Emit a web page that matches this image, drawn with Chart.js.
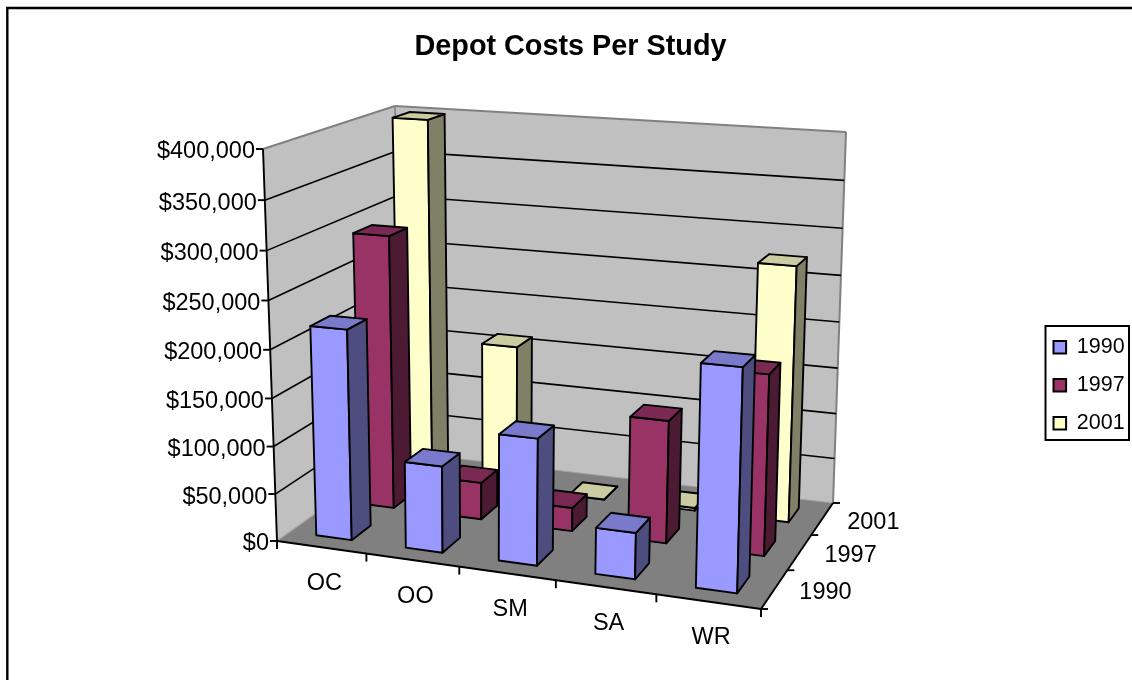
<!DOCTYPE html>
<html>
<head>
<meta charset="utf-8">
<style>html,body{margin:0;padding:0;background:#fff}canvas{display:block}</style>
<script src="https://cdn.jsdelivr.net/npm/chart.js@4/dist/chart.umd.min.js"></script>
</head>
<body>
<canvas id="chart" width="1132" height="680"></canvas>
<script>
const categories = ['OC', 'OO', 'SM', 'SA', 'WR'];
const years = ['1990', '1997', '2001'];
const costs1990 = [220000, 90000, 130000, 47000, 221000];
const costs1997 = [294000, 40000, 25000, 129000, 187000];
const costs2001 = [399000, 160000, 0, 3000, 273000];

const FONT = '"Liberation Sans", Arial, sans-serif';
const faceColors = [
    { front: '#9999FF', side: '#4D4D80', top: '#7A7ACC' },
    { front: '#993366', side: '#4D1A33', top: '#7A2952' },
    { front: '#FFFFCC', side: '#808066', top: '#CCCCA3' }
];

//esquinas de la caja 3D: frente-izq, frente-der, fondo-der, fondo-izq
const floorQuad = [[277, 541], [761, 609], [833, 503], [402, 452]];
const roofQuad = [[263, 149], [772, 182], [846, 132], [395, 106]];

function homography(q) {
    const [[x0, y0], [x1, y1], [x2, y2], [x3, y3]] = q;
    const dx1 = x1 - x2, dx2 = x3 - x2, sx = x0 - x1 + x2 - x3;
    const dy1 = y1 - y2, dy2 = y3 - y2, sy = y0 - y1 + y2 - y3;
    const den = dx1 * dy2 - dx2 * dy1;
    const g = (sx * dy2 - dx2 * sy) / den;
    const h = (dx1 * sy - sx * dy1) / den;
    const a = x1 - x0 + g * x1, b = x3 - x0 + h * x3;
    const d = y1 - y0 + g * y1, e = y3 - y0 + h * y3;
    return (u, w) => {
        const n = g * u + h * w + 1;
        return [(a * u + b * w + x0) / n, (d * u + e * w + y0) / n];
    };
}
const floorAt = homography(floorQuad);
const roofAt = homography(roofQuad);

//u: ancho (categorias), w: profundidad (series), t: altura 0..1
function project(u, w, t) {
    const r = 1.05;
    const k = t / (t + (1 - t) * r);
    const a = floorAt(u, w), b = roofAt(u, w);
    return [a[0] + (b[0] - a[0]) * k, a[1] + (b[1] - a[1]) * k];
}

function poly(ctx, pts, fill, stroke, lw) {
    ctx.beginPath();
    pts.forEach((p, i) => i ? ctx.lineTo(p[0], p[1]) : ctx.moveTo(p[0], p[1]));
    ctx.closePath();
    if (fill) { ctx.fillStyle = fill; ctx.fill(); }
    if (stroke) { ctx.strokeStyle = stroke; ctx.lineWidth = lw; ctx.stroke(); }
}
function seg(ctx, a, b, color, lw) {
    ctx.beginPath();
    ctx.moveTo(a[0], a[1]);
    ctx.lineTo(b[0], b[1]);
    ctx.strokeStyle = color;
    ctx.lineWidth = lw;
    ctx.stroke();
}
function label(ctx, text, x, y, align) {
    ctx.font = '23.5px ' + FONT;
    ctx.fillStyle = '#000';
    ctx.textAlign = align;
    ctx.textBaseline = 'middle';
    ctx.fillText(text, x, y);
}

const scene3d = {
    id: 'scene3d',
    afterLayout(chart) {
        //la leyenda va fija a la derecha, como en el original
        chart.legend.left = 1037;
        chart.legend.top = 320;
    },
    beforeDraw(chart) {
        const { ctx } = chart;
        ctx.save();
        //marco exterior, solo arriba e izquierda
        ctx.beginPath();
        ctx.moveTo(7.3, 680);
        ctx.lineTo(7.3, 8);
        ctx.lineTo(1132, 8);
        ctx.strokeStyle = '#000';
        ctx.lineWidth = 2.4;
        ctx.stroke();
        ctx.restore();
    },
    beforeDatasetsDraw(chart) {
        const { ctx, scales: { x, y } } = chart;
        const frac = v => (y.bottom - y.getPixelForValue(v)) / (y.bottom - y.top);
        ctx.save();
        ctx.lineJoin = 'round';

        //paredes y piso
        poly(ctx, [project(0, 0, 0), project(0, 1, 0), project(0, 1, 1), project(0, 0, 1)], '#C0C0C0');
        poly(ctx, [project(0, 1, 0), project(1, 1, 0), project(1, 1, 1), project(0, 1, 1)], '#C0C0C0');
        poly(ctx, [project(0, 0, 0), project(1, 0, 0), project(1, 1, 0), project(0, 1, 0)], '#808080');
        seg(ctx, project(0, 0, 1), project(0, 1, 1), '#808080', 2);
        seg(ctx, project(0, 1, 1), project(1, 1, 1), '#808080', 2);
        seg(ctx, project(1, 1, 1), project(1, 1, 0), '#808080', 2);
        seg(ctx, project(0, 1, 1), project(0, 1, 0), '#808080', 1.6);
        seg(ctx, project(0, 0, 0), project(0, 1, 0), '#A0A0A0', 1.2);
        seg(ctx, project(0, 1, 0), project(1, 1, 0), '#A0A0A0', 1.2);

        //lineas de grilla y etiquetas del eje de valores
        y.ticks.forEach((tick, i) => {
            const t = frac(tick.value);
            const a = project(0, 0, t);
            if (i > 0 && i < y.ticks.length - 1) {
                seg(ctx, a, project(0, 1, t), '#000', 1.6);
                seg(ctx, project(0, 1, t), project(1, 1, t), '#000', 1.6);
            }
            seg(ctx, [a[0] - 7, a[1]], a, '#000', 1.9);
            label(ctx, tick.label, a[0] - 8, a[1] + 3, 'right');
        });

        //ejes
        seg(ctx, project(0, 0, 0), project(0, 0, 1), '#000', 1.9);
        seg(ctx, project(0, 0, 0), project(1, 0, 0), '#000', 1.9);
        seg(ctx, project(1, 0, 0), project(1, 1, 0), '#000', 1.9);

        const catW = 1 / categories.length;
        for (let i = 0; i <= categories.length; i++) {
            const p = project(i * catW, 0, 0);
            seg(ctx, p, [p[0], p[1] + 8], '#000', 1.9);
        }
        categories.forEach((c, i) => {
            const p = project((x.getPixelForValue(i) - x.left) / x.width, 0, 0);
            label(ctx, c, p[0] + 3, p[1] + 36, 'center');
        });
        for (let s = 0; s <= years.length; s++) {
            const p = project(1, s / years.length, 0);
            seg(ctx, p, [p[0] + 7, p[1]], '#000', 1.9);
        }
        years.forEach((yr, s) => {
            const p = project(1, (s + 0.5) / years.length, 0);
            label(ctx, yr, p[0] + 51, p[1] + 3.5, 'center');
        });

        //barras, de atras hacia adelante
        const slot = 1 / years.length;
        for (let s = years.length - 1; s >= 0; s--) {
            const meta = chart.getDatasetMeta(s);
            const c = faceColors[s];
            const w0 = (s + 0.5) * slot - 0.22 * slot;
            const w1 = (s + 0.5) * slot + 0.22 * slot;
            meta.data.forEach(bar => {
                const u0 = (bar.x - bar.width / 2 - x.left) / x.width;
                const u1 = (bar.x + bar.width / 2 - x.left) / x.width;
                const t = (y.bottom - bar.y) / (y.bottom - y.top);
                poly(ctx, [project(u0, w0, 0), project(u1, w0, 0), project(u1, w0, t), project(u0, w0, t)], c.front, '#000', 1.9);
                poly(ctx, [project(u1, w0, 0), project(u1, w1, 0), project(u1, w1, t), project(u1, w0, t)], c.side, '#000', 1.9);
                poly(ctx, [project(u0, w0, t), project(u1, w0, t), project(u1, w1, t), project(u0, w1, t)], c.top, '#000', 1.9);
            });
        }
        ctx.restore();
        return false;
    },
    afterDraw(chart) {
        const { ctx } = chart;
        ctx.save();
        ctx.strokeStyle = '#000';
        ctx.lineWidth = 2;
        ctx.strokeRect(1045.5, 326, 83.5, 114);
        ctx.restore();
    }
};

new Chart(document.getElementById('chart'), {
    type: 'bar',
    data: {
        labels: categories,
        datasets: [costs1990, costs1997, costs2001].map((values, s) => ({
            label: years[s],
            data: values,
            grouped: false,
            barPercentage: 0.4,
            categoryPercentage: 1,
            backgroundColor: faceColors[s].front,
            borderColor: '#000',
            borderWidth: 2
        }))
    },
    options: {
        responsive: false,
        animation: false,
        layout: { padding: { left: 10, right: 1, top: 0, bottom: 0 } },
        scales: {
            x: { display: false },
            y: {
                display: false,
                min: 0,
                max: 400000,
                ticks: { stepSize: 50000, callback: v => '$' + v.toLocaleString('en-US') }
            }
        },
        plugins: {
            tooltip: { enabled: false },
            title: {
                display: true,
                text: 'Depot Costs Per Study',
                color: '#000',
                font: { family: FONT, size: 28.8, weight: 'bold' },
                padding: { top: 29.7, bottom: 10 }
            },
            legend: {
                position: 'right',
                align: 'start',
                labels: {
                    color: '#000',
                    boxWidth: 12.6,
                    boxHeight: 12.6,
                    padding: 16.5,
                    font: { family: FONT, size: 21.5 }
                }
            }
        }
    },
    plugins: [scene3d]
});
</script>
</body>
</html>
